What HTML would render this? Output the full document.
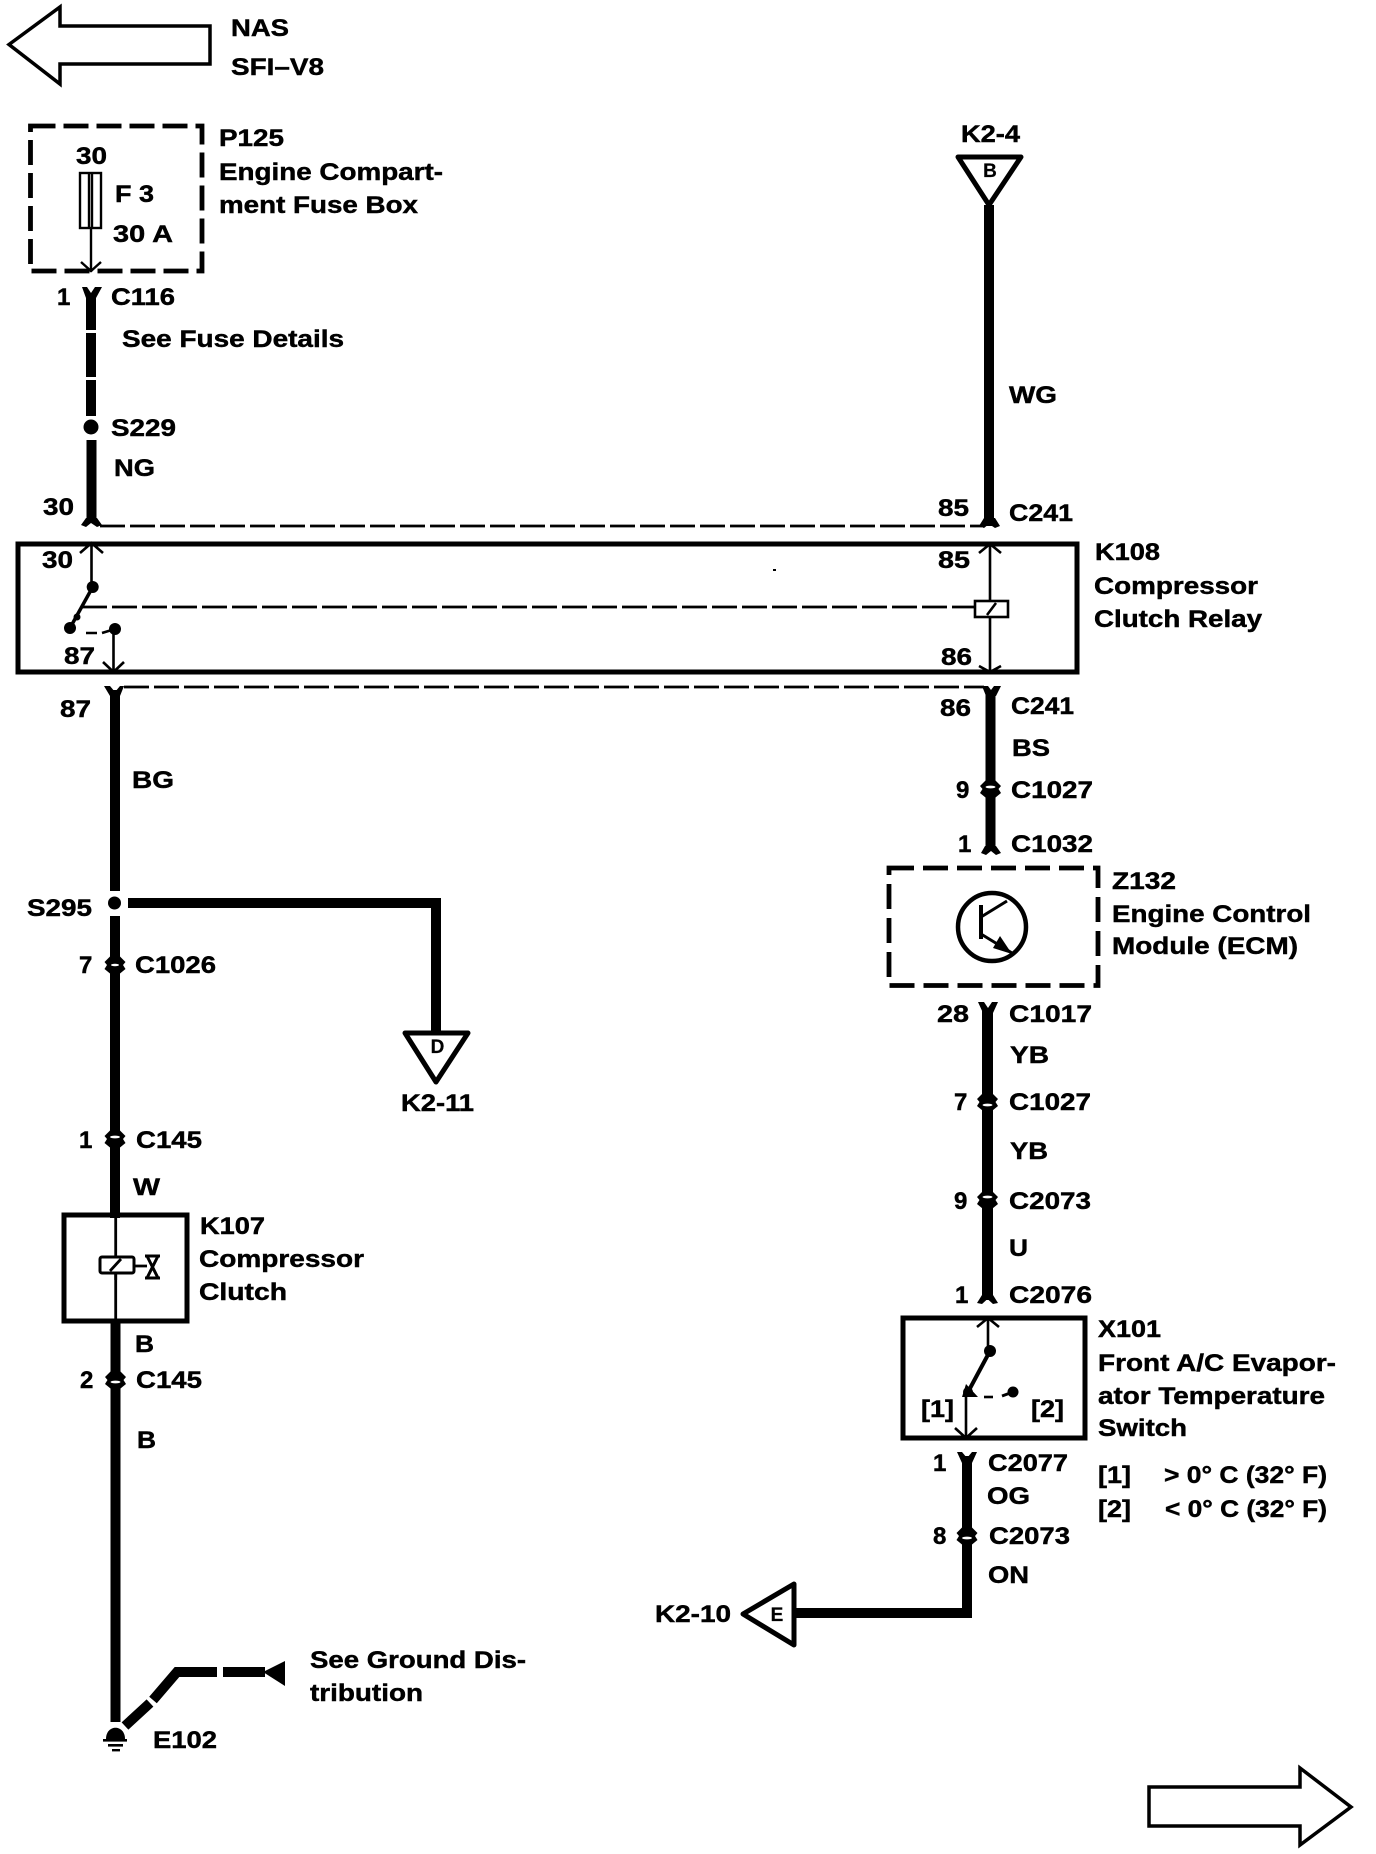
<!DOCTYPE html>
<html><head><meta charset="utf-8"><title>Compressor clutch wiring diagram</title>
<style>
html,body{margin:0;padding:0;background:#fff}
svg{display:block}
text{font-family:"Liberation Sans",Arial,sans-serif;font-weight:bold;font-size:24px;fill:#000;stroke:#000;stroke-width:.45}
.s{font-size:19px;text-anchor:middle;stroke-width:.2}
</style></head><body>
<svg xmlns="http://www.w3.org/2000/svg" width="1376" height="1854" viewBox="0 0 1376 1854">
<rect width="1376" height="1854" fill="#fff"/>
<defs>
<path id="cn" d="M-5-8.5H5L10.5-3 8 0 10.5 4 5 8.5H-5L-10.5 4-8 0-10.5-3Z"/>
</defs>

<!-- page arrows -->
<g fill="#fff" stroke="#000" stroke-width="3.5" stroke-linejoin="miter">
<path d="M9 44.5L60 7V26H210V64H60V84Z"/>
<path d="M1149 1787H1300V1768L1351 1807 1300 1845V1826H1149Z"/>
</g>

<!-- thin dashed lines -->
<g fill="none" stroke="#000" stroke-width="2.8" stroke-dasharray="25 5">
<path d="M100 526H982"/>
<path d="M124 687H984"/>
<path d="M82 607H975"/>
</g>

<!-- fuse box -->
<path d="M30.5 126H202V271H30.5Z" fill="none" stroke="#000" stroke-width="4.8" stroke-dasharray="25 8"/>
<g fill="none" stroke="#000" stroke-width="2.4">
<rect x="80" y="173" width="21" height="55"/>
<path d="M89 173V228M92 173V228M91 228V272M81 262L91 271 101 262"/>
</g>

<!-- wires -->
<g stroke="#000" stroke-width="10" fill="none">
<path d="M91 296V330M91 333V377M91 380V416M91.5 440V521"/>
<path d="M989 205V526"/>
<path d="M115 690V891M115 916V1218M115.5 1320V1722"/>
<path d="M128 903H436V1031"/>
<path d="M990.5 692V850"/>
<path d="M987.5 1008V1300" stroke-width="11"/>
<path d="M967 1456V1613H795"/>
<path d="M125 1726L150 1703M153 1700L177 1672H217M223 1672H265"/>
</g>
<g fill="#000">
<path d="M82 287L87 287 91 293 95 287 102 287 96 298H86Z"/>
<path d="M81 525L86 518H97L102 525 97 527 91 523 86 527Z"/>
<circle cx="91" cy="427" r="7.5"/>
<path d="M979 526L984 518H995L1000 526 995 528 989 524 984 528Z"/>
<path d="M104 686L110 686 115 692 120 686 124 686 120 696H110Z"/>
<circle cx="114.5" cy="903" r="6.5"/>
<path d="M982 686L988 686 991 690 994 686 1001 686 996 696H986Z"/>
<path d="M981 853L985 846H996L1001 853 996 855 991 851 986 855Z"/>
<path d="M978 1002L984 1002 988 1008 992 1002 998 1002 993 1013H983Z"/>
<path d="M977 1303L982 1295H993L998 1303 993 1304 987.5 1299 982 1304Z"/>
<path d="M957 1452L962 1452 967 1458 972 1452 977 1452 972 1463H962Z"/>
<path d="M263 1672L285 1661V1686Z"/>
</g>

<!-- connectors -->
<g fill="#000">
<use href="#cn" x="990.5" y="789"/>
<use href="#cn" x="987.5" y="1102"/>
<use href="#cn" x="987.5" y="1200"/>
<use href="#cn" x="115" y="965"/>
<use href="#cn" x="115" y="1139"/>
<use href="#cn" x="115.5" y="1380"/>
<use href="#cn" x="967" y="1536"/>
</g>
<g fill="#fff">
<ellipse cx="990.5" cy="787" rx="5" ry="1.4"/>
<ellipse cx="987.5" cy="1105" rx="5" ry="1.4"/>
<ellipse cx="987.5" cy="1197" rx="5" ry="1.4"/>
<ellipse cx="115" cy="965" rx="4" ry="1.2"/>
<ellipse cx="115" cy="1137" rx="5" ry="1.4"/>
<ellipse cx="115.5" cy="1382" rx="5" ry="1.4"/>
<ellipse cx="967" cy="1538" rx="5" ry="1.4"/>
</g>

<!-- K108 relay -->
<rect x="18" y="544" width="1059" height="128" fill="none" stroke="#000" stroke-width="5"/>
<g fill="none" stroke="#000" stroke-width="2.6">
<path d="M91.5 544V587M80 553L91.5 543 103 553"/>
<path d="M113.5 629V672M103 662L113.5 672 124 662"/>
<path d="M86 633H97M102 633L115 629"/>
<path d="M990 544V601M990 617V672M979 553L990 544 1001 553M979 666L990 672 1001 666"/>
<rect x="975" y="601" width="33" height="16" fill="#fff"/>
<path d="M987 615L996 603"/>
</g>
<path d="M92.7 587L70 628" stroke="#000" stroke-width="3.5"/>
<g fill="#000"><circle cx="92.7" cy="587" r="6"/><circle cx="70" cy="628" r="6"/><circle cx="115" cy="629" r="6"/><circle cx="77" cy="617" r="3.5"/></g>
<rect x="773" y="569" width="3" height="2" fill="#000"/>

<!-- Z132 ECM -->
<path d="M889 868H1098V985.5H889Z" fill="none" stroke="#000" stroke-width="4.8" stroke-dasharray="25 9"/>
<circle cx="992" cy="927" r="34" fill="#fff" stroke="#000" stroke-width="4.5"/>
<g fill="none" stroke="#000" stroke-width="3">
<path d="M981 905V939" stroke-width="4"/>
<path d="M981 917L1007 901M981 934L1012 953"/>
</g>
<path d="M1012 954L993 948 1000 936Z" fill="#000"/>

<!-- X101 -->
<rect x="903" y="1318" width="182" height="120" fill="none" stroke="#000" stroke-width="5"/>
<g fill="none" stroke="#000" stroke-width="2.6">
<path d="M988 1318V1351M977 1327L988 1318 999 1327"/>
<path d="M966 1392V1438M955 1428L966 1438 977 1428"/>
<path d="M984 1397H993"/>
</g>
<path d="M990 1351L968 1392" stroke="#000" stroke-width="4"/>
<path d="M1002 1396L1013 1392" stroke="#000" stroke-width="3"/>
<g fill="#000"><circle cx="990" cy="1351" r="6"/><circle cx="968" cy="1392" r="5"/><circle cx="1013" cy="1392" r="5.5"/><path d="M966 1384L978 1397H962Z"/></g>

<!-- K107 -->
<rect x="64" y="1215" width="123" height="106" fill="none" stroke="#000" stroke-width="5"/>
<g fill="none" stroke="#000" stroke-width="2.8">
<path d="M115.7 1205V1322"/>
<rect x="100" y="1257" width="34" height="16" rx="2" fill="#fff" stroke-width="3"/>
<path d="M110 1271L121 1259M115.7 1273V1280M134 1266H147"/>
<path d="M145 1256H160M145 1278H160M147 1256L158 1278M158 1256L147 1278" stroke-width="3"/>
</g>

<!-- ground -->
<g fill="#000">
<path d="M106 1739C106 1724 125 1724 125 1739Z"/>
<rect x="103" y="1739" width="24" height="2.6"/>
<rect x="108" y="1744" width="15" height="2.6"/>
<rect x="112" y="1749" width="8" height="2.4"/>
</g>

<!-- Triangles -->
<g fill="#fff" stroke="#000" stroke-width="5" stroke-linejoin="round">
<path d="M958 157H1021L989 205Z"/>
<path d="M405 1033H468L436 1082Z"/>
<path d="M743 1614L794 1584V1645Z"/>
</g>
<text class="s" x="990" y="177">B</text>
<text class="s" x="437.5" y="1053">D</text>
<text class="s" x="777" y="1621">E</text>

<!-- labels -->
<g>
<text x="231" y="36" textLength="58" lengthAdjust="spacingAndGlyphs">NAS</text>
<text x="231" y="75" textLength="93" lengthAdjust="spacingAndGlyphs">SFI–V8</text>
<text x="219" y="146" textLength="65" lengthAdjust="spacingAndGlyphs">P125</text>
<text x="219" y="180" textLength="224" lengthAdjust="spacingAndGlyphs">Engine Compart-</text>
<text x="219" y="213" textLength="199" lengthAdjust="spacingAndGlyphs">ment Fuse Box</text>
<text x="76" y="164" textLength="31" lengthAdjust="spacingAndGlyphs">30</text>
<text x="115" y="202" textLength="39" lengthAdjust="spacingAndGlyphs">F 3</text>
<text x="113" y="242" textLength="60" lengthAdjust="spacingAndGlyphs">30 A</text>
<text x="57" y="305">1</text>
<text x="111" y="305" textLength="64" lengthAdjust="spacingAndGlyphs">C116</text>
<text x="122" y="347" textLength="222" lengthAdjust="spacingAndGlyphs">See Fuse Details</text>
<text x="111" y="436" textLength="65" lengthAdjust="spacingAndGlyphs">S229</text>
<text x="114" y="476" textLength="41" lengthAdjust="spacingAndGlyphs">NG</text>
<text x="43" y="515" textLength="31" lengthAdjust="spacingAndGlyphs">30</text>
<text x="42" y="568" textLength="31" lengthAdjust="spacingAndGlyphs">30</text>
<text x="64" y="664" textLength="31" lengthAdjust="spacingAndGlyphs">87</text>
<text x="60" y="717" textLength="31" lengthAdjust="spacingAndGlyphs">87</text>
<text x="132" y="788" textLength="42" lengthAdjust="spacingAndGlyphs">BG</text>
<text x="27" y="916" textLength="65" lengthAdjust="spacingAndGlyphs">S295</text>
<text x="79" y="973">7</text>
<text x="135" y="973" textLength="81" lengthAdjust="spacingAndGlyphs">C1026</text>
<text x="79" y="1148">1</text>
<text x="136" y="1148" textLength="66" lengthAdjust="spacingAndGlyphs">C145</text>
<text x="133" y="1195" textLength="27" lengthAdjust="spacingAndGlyphs">W</text>
<text x="401" y="1111" textLength="73" lengthAdjust="spacingAndGlyphs">K2-11</text>
<text x="200" y="1234" textLength="65" lengthAdjust="spacingAndGlyphs">K107</text>
<text x="199" y="1267" textLength="165" lengthAdjust="spacingAndGlyphs">Compressor</text>
<text x="199" y="1300" textLength="88" lengthAdjust="spacingAndGlyphs">Clutch</text>
<text x="135" y="1352" textLength="19" lengthAdjust="spacingAndGlyphs">B</text>
<text x="80" y="1388">2</text>
<text x="136" y="1388" textLength="66" lengthAdjust="spacingAndGlyphs">C145</text>
<text x="137" y="1448" textLength="19" lengthAdjust="spacingAndGlyphs">B</text>
<text x="310" y="1668" textLength="216" lengthAdjust="spacingAndGlyphs">See Ground Dis-</text>
<text x="310" y="1701" textLength="113" lengthAdjust="spacingAndGlyphs">tribution</text>
<text x="153" y="1748" textLength="64" lengthAdjust="spacingAndGlyphs">E102</text>

<text x="961" y="142" textLength="59" lengthAdjust="spacingAndGlyphs">K2-4</text>
<text x="1009" y="403" textLength="48" lengthAdjust="spacingAndGlyphs">WG</text>
<text x="938" y="516" textLength="31" lengthAdjust="spacingAndGlyphs">85</text>
<text x="1009" y="521" textLength="64" lengthAdjust="spacingAndGlyphs">C241</text>
<text x="938" y="568" textLength="32" lengthAdjust="spacingAndGlyphs">85</text>
<text x="1095" y="560" textLength="65" lengthAdjust="spacingAndGlyphs">K108</text>
<text x="1094" y="594" textLength="164" lengthAdjust="spacingAndGlyphs">Compressor</text>
<text x="1094" y="627" textLength="168" lengthAdjust="spacingAndGlyphs">Clutch Relay</text>
<text x="941" y="665" textLength="31" lengthAdjust="spacingAndGlyphs">86</text>
<text x="940" y="716" textLength="31" lengthAdjust="spacingAndGlyphs">86</text>
<text x="1011" y="714" textLength="63" lengthAdjust="spacingAndGlyphs">C241</text>
<text x="1012" y="756" textLength="38" lengthAdjust="spacingAndGlyphs">BS</text>
<text x="956" y="798">9</text>
<text x="1011" y="798" textLength="82" lengthAdjust="spacingAndGlyphs">C1027</text>
<text x="958" y="852">1</text>
<text x="1011" y="852" textLength="82" lengthAdjust="spacingAndGlyphs">C1032</text>
<text x="1112" y="889" textLength="64" lengthAdjust="spacingAndGlyphs">Z132</text>
<text x="1112" y="922" textLength="199" lengthAdjust="spacingAndGlyphs">Engine Control</text>
<text x="1112" y="954" textLength="186" lengthAdjust="spacingAndGlyphs">Module (ECM)</text>
<text x="937" y="1022" textLength="32" lengthAdjust="spacingAndGlyphs">28</text>
<text x="1009" y="1022" textLength="83" lengthAdjust="spacingAndGlyphs">C1017</text>
<text x="1010" y="1063" textLength="39" lengthAdjust="spacingAndGlyphs">YB</text>
<text x="954" y="1110">7</text>
<text x="1009" y="1110" textLength="82" lengthAdjust="spacingAndGlyphs">C1027</text>
<text x="1010" y="1159" textLength="38" lengthAdjust="spacingAndGlyphs">YB</text>
<text x="954" y="1209">9</text>
<text x="1009" y="1209" textLength="82" lengthAdjust="spacingAndGlyphs">C2073</text>
<text x="1009" y="1256" textLength="19" lengthAdjust="spacingAndGlyphs">U</text>
<text x="955" y="1303">1</text>
<text x="1009" y="1303" textLength="83" lengthAdjust="spacingAndGlyphs">C2076</text>
<text x="1098" y="1337" textLength="63" lengthAdjust="spacingAndGlyphs">X101</text>
<text x="1098" y="1371" textLength="238" lengthAdjust="spacingAndGlyphs">Front A/C Evapor-</text>
<text x="1098" y="1404" textLength="227" lengthAdjust="spacingAndGlyphs">ator Temperature</text>
<text x="1098" y="1436" textLength="89" lengthAdjust="spacingAndGlyphs">Switch</text>
<text x="921" y="1417" textLength="33" lengthAdjust="spacingAndGlyphs">[1]</text>
<text x="1031" y="1417" textLength="33" lengthAdjust="spacingAndGlyphs">[2]</text>
<text x="933" y="1471">1</text>
<text x="988" y="1471" textLength="80" lengthAdjust="spacingAndGlyphs">C2077</text>
<text x="987" y="1504" textLength="43" lengthAdjust="spacingAndGlyphs">OG</text>
<text x="933" y="1544">8</text>
<text x="989" y="1544" textLength="81" lengthAdjust="spacingAndGlyphs">C2073</text>
<text x="988" y="1583" textLength="41" lengthAdjust="spacingAndGlyphs">ON</text>
<text x="1098" y="1483" textLength="33" lengthAdjust="spacingAndGlyphs">[1]</text>
<text x="1164" y="1483" textLength="163" lengthAdjust="spacingAndGlyphs">&gt; 0° C (32° F)</text>
<text x="1098" y="1517" textLength="33" lengthAdjust="spacingAndGlyphs">[2]</text>
<text x="1165" y="1517" textLength="162" lengthAdjust="spacingAndGlyphs">&lt; 0° C (32° F)</text>
<text x="655" y="1622" textLength="76" lengthAdjust="spacingAndGlyphs">K2-10</text>
</g>
</svg>
</body></html>
